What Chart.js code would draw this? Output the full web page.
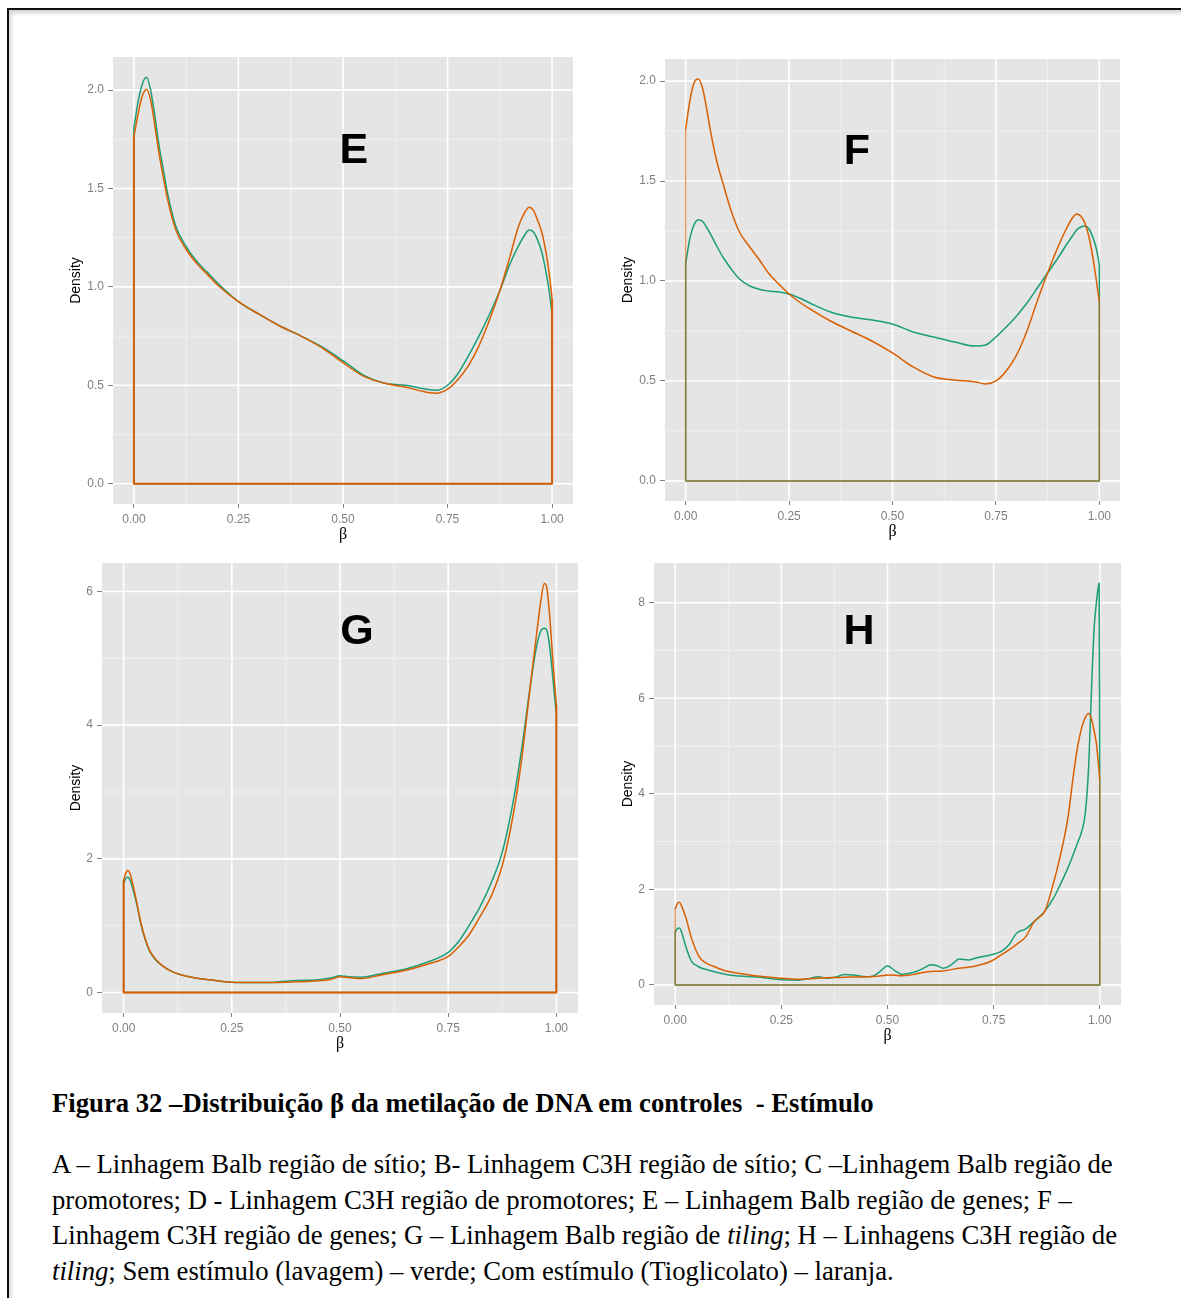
<!DOCTYPE html>
<html>
<head>
<meta charset="utf-8">
<title>Distribuição β da metilação de DNA</title>
<script src="https://cdn.jsdelivr.net/npm/chart.js@4.4.1/dist/chart.umd.min.js"></script>
<style>
  html, body { margin: 0; padding: 0; background: #fff; width: 1181px; height: 1298px; overflow: hidden; }
  #frame { position: absolute; left: 7px; top: 8px; width: 1300px; height: 1400px;
           border: 2px solid #111; box-shadow: inset 2px 3px 4px rgba(0,0,0,0.18); }
  canvas { position: absolute; }
  .cap { position: absolute; left: 52px; font-family: "Liberation Serif", "Times New Roman", serif;
         font-size: 26.7px; color: #000; white-space: nowrap; }
</style>
</head>
<body>
<div id="frame"></div>
<canvas id="chartE"></canvas>
<canvas id="chartF"></canvas>
<canvas id="chartG"></canvas>
<canvas id="chartH"></canvas>

<div class="cap" style="top:1085px;line-height:36px;font-weight:bold;">Figura 32 –Distribuição β da metilação de DNA em controles&nbsp; - Estímulo</div>
<div class="cap" style="top:1147px;line-height:35.5px;">A – Linhagem Balb região de sítio; B- Linhagem C3H região de sítio; C –Linhagem Balb região de<br>promotores; D - Linhagem C3H região de promotores; E – Linhagem Balb região de genes; F –<br>Linhagem C3H região de genes; G – Linhagem Balb região de <i>tiling</i>; H – Linhagens C3H região de<br><i>tiling</i>; Sem estímulo (lavagem) – verde; Com estímulo (Tioglicolato) – laranja.</div>

<script>
// ---- shared axis ticks (β) ----
const betaTicks = [0, 0.25, 0.5, 0.75, 1];
const betaTickLabels = ['0.00', '0.25', '0.50', '0.75', '1.00'];
const betaMinor = [0.125, 0.375, 0.625, 0.875];

// ---- E: Balb, região de genes ----
const eBeta = [0, 0.01, 0.02, 0.03, 0.04, 0.05, 0.06, 0.07, 0.08, 0.1, 0.125, 0.15, 0.175, 0.2, 0.25, 0.3, 0.35, 0.4, 0.45, 0.5, 0.55, 0.6, 0.65, 0.7, 0.725, 0.75, 0.775, 0.8, 0.825, 0.85, 0.875, 0.9, 0.92, 0.935, 0.945, 0.955, 0.965, 0.975, 0.985, 0.993, 1.0];
const eSemEstimulo = [1.81, 1.94, 2.03, 2.065, 2.0, 1.87, 1.72, 1.6, 1.48, 1.31, 1.205, 1.13, 1.075, 1.02, 0.925, 0.86, 0.8, 0.75, 0.695, 0.625, 0.55, 0.51, 0.5, 0.48, 0.475, 0.5, 0.56, 0.65, 0.75, 0.86, 0.98, 1.12, 1.21, 1.265, 1.289, 1.28, 1.24, 1.18, 1.08, 0.98, 0.86];
const eComEstimulo = [1.76, 1.88, 1.97, 2.005, 1.95, 1.82, 1.68, 1.56, 1.45, 1.29, 1.19, 1.12, 1.065, 1.01, 0.925, 0.86, 0.8, 0.75, 0.69, 0.615, 0.545, 0.51, 0.49, 0.465, 0.46, 0.48, 0.53, 0.6, 0.7, 0.83, 0.98, 1.16, 1.31, 1.38, 1.405, 1.39, 1.34, 1.28, 1.18, 1.07, 0.94];
const eYTicks = [0, 0.5, 1, 1.5, 2];
const eYTickLabels = ['0.0', '0.5', '1.0', '1.5', '2.0'];
const eYMinor = [0.25, 0.75, 1.25, 1.75];
const eLetterAt = [0.526, 1.63];

// ---- F: C3H, região de genes ----
const fBeta = [0, 0.01, 0.02, 0.03, 0.04, 0.05, 0.06, 0.075, 0.09, 0.11, 0.13, 0.155, 0.18, 0.2, 0.225, 0.25, 0.275, 0.3, 0.35, 0.4, 0.45, 0.5, 0.55, 0.6, 0.65, 0.7, 0.725, 0.75, 0.775, 0.8, 0.825, 0.85, 0.875, 0.9, 0.92, 0.935, 0.945, 0.955, 0.965, 0.975, 0.985, 0.993, 1.0];
const fSemEstimulo = [1.09, 1.21, 1.28, 1.305, 1.3, 1.27, 1.235, 1.175, 1.12, 1.06, 1.01, 0.975, 0.957, 0.95, 0.945, 0.935, 0.915, 0.89, 0.845, 0.82, 0.805, 0.785, 0.745, 0.72, 0.695, 0.675, 0.68, 0.72, 0.77, 0.825, 0.89, 0.965, 1.04, 1.115, 1.18, 1.225, 1.255, 1.27, 1.275, 1.26, 1.215, 1.16, 1.08];
const fComEstimulo = [1.76, 1.9, 1.99, 2.01, 1.97, 1.87, 1.75, 1.6, 1.49, 1.35, 1.245, 1.17, 1.1, 1.04, 0.985, 0.935, 0.895, 0.86, 0.8, 0.75, 0.7, 0.64, 0.57, 0.52, 0.505, 0.495, 0.485, 0.5, 0.55, 0.63, 0.75, 0.9, 1.04, 1.17, 1.26, 1.315, 1.335, 1.325, 1.29, 1.22, 1.11, 1.0, 0.895];
const fYTicks = [0, 0.5, 1, 1.5, 2];
const fYTickLabels = ['0.0', '0.5', '1.0', '1.5', '2.0'];
const fYMinor = [0.25, 0.75, 1.25, 1.75];
const fLetterAt = [0.414, 1.585];

// ---- G: Balb, região de tiling ----
const gBeta = [0, 0.005, 0.01, 0.015, 0.02, 0.03, 0.04, 0.05, 0.06, 0.075, 0.09, 0.11, 0.13, 0.16, 0.2, 0.25, 0.3, 0.35, 0.4, 0.45, 0.48, 0.5, 0.52, 0.55, 0.6, 0.65, 0.7, 0.75, 0.775, 0.8, 0.825, 0.85, 0.875, 0.9, 0.92, 0.94, 0.955, 0.965, 0.972, 0.978, 0.985, 0.992, 1.0];
const gSemEstimulo = [1.63, 1.71, 1.725, 1.68, 1.58, 1.33, 1.02, 0.79, 0.62, 0.48, 0.4, 0.32, 0.27, 0.225, 0.19, 0.155, 0.15, 0.155, 0.18, 0.19, 0.22, 0.25, 0.235, 0.23, 0.29, 0.35, 0.45, 0.6, 0.77, 1.02, 1.3, 1.65, 2.1, 2.85, 3.65, 4.6, 5.2, 5.42, 5.45, 5.42, 5.15, 4.7, 4.15];
const gComEstimulo = [1.68, 1.79, 1.826, 1.78, 1.65, 1.36, 1.04, 0.8, 0.63, 0.49, 0.4, 0.32, 0.27, 0.225, 0.19, 0.155, 0.15, 0.15, 0.16, 0.175, 0.2, 0.235, 0.225, 0.21, 0.27, 0.33, 0.42, 0.54, 0.69, 0.88, 1.15, 1.45, 1.9, 2.65, 3.5, 4.6, 5.4, 5.9, 6.12, 6.05, 5.6, 4.95, 4.3];
const gYTicks = [0, 2, 4, 6];
const gYTickLabels = ['0', '2', '4', '6'];
const gYMinor = [1, 3, 5];
const gLetterAt = [0.539, 5.21];

// ---- H: C3H, região de tiling ----
const hBeta = [0, 0.005, 0.01, 0.015, 0.025, 0.038, 0.055, 0.07, 0.09, 0.12, 0.16, 0.2, 0.25, 0.29, 0.315, 0.337, 0.357, 0.38, 0.4, 0.425, 0.45, 0.467, 0.485, 0.5, 0.517, 0.534, 0.55, 0.568, 0.585, 0.602, 0.617, 0.631, 0.65, 0.669, 0.69, 0.71, 0.745, 0.77, 0.787, 0.804, 0.825, 0.846, 0.871, 0.89, 0.907, 0.925, 0.938, 0.948, 0.958, 0.966, 0.974, 0.981, 0.987, 0.992, 0.996, 0.9985, 1.0];
const hSemEstimulo = [1.1, 1.18, 1.19, 1.1, 0.8, 0.5, 0.38, 0.33, 0.28, 0.22, 0.18, 0.16, 0.11, 0.1, 0.13, 0.17, 0.14, 0.17, 0.22, 0.2, 0.17, 0.19, 0.3, 0.4, 0.3, 0.22, 0.24, 0.28, 0.35, 0.42, 0.4, 0.35, 0.42, 0.54, 0.52, 0.57, 0.63, 0.71, 0.85, 1.08, 1.17, 1.33, 1.55, 1.8, 2.1, 2.45, 2.74, 2.98, 3.23, 3.6, 4.6, 6.3, 7.5, 8.0, 8.3, 8.41, 4.3];
const hComEstimulo = [1.59, 1.7, 1.73, 1.65, 1.41, 0.99, 0.61, 0.47, 0.39, 0.29, 0.23, 0.18, 0.14, 0.12, 0.13, 0.14, 0.15, 0.155, 0.16, 0.165, 0.17, 0.175, 0.19, 0.21, 0.2, 0.19, 0.2, 0.23, 0.26, 0.28, 0.285, 0.29, 0.32, 0.35, 0.37, 0.4, 0.5, 0.64, 0.74, 0.85, 1.0, 1.33, 1.55, 2.1, 2.7, 3.5, 4.4, 5.0, 5.4, 5.6, 5.68, 5.55, 5.3, 5.05, 4.7, 4.45, 4.28];
const hYTicks = [0, 2, 4, 6, 8];
const hYTickLabels = ['0', '2', '4', '6', '8'];
const hYMinor = [1, 3, 5, 7];
const hLetterAt = [0.433, 7.13];

// ---- styling ----
const GREEN = '#1B9E77';
const ORANGE = '#D95F02';
const SANS = '"Liberation Sans", Arial, Helvetica, sans-serif';
const SERIF = '"Liberation Serif", "Times New Roman", serif';

// panel background and ggplot-style grid, drawn through the chart scales
const panelGrid = {
  id: 'panelGrid',
  beforeDraw(chart, args, opts) {
    const { ctx, chartArea: a, scales: { x, y } } = chart;
    ctx.save();
    ctx.fillStyle = '#E5E5E5';
    ctx.fillRect(a.left, a.top, a.right - a.left, a.bottom - a.top);
    const vline = (v, color, w) => {
      const px = x.getPixelForValue(v);
      ctx.strokeStyle = color; ctx.lineWidth = w;
      ctx.beginPath(); ctx.moveTo(px, a.top); ctx.lineTo(px, a.bottom); ctx.stroke();
    };
    const hline = (v, color, w) => {
      const py = y.getPixelForValue(v);
      ctx.strokeStyle = color; ctx.lineWidth = w;
      ctx.beginPath(); ctx.moveTo(a.left, py); ctx.lineTo(a.right, py); ctx.stroke();
    };
    opts.xMinor.forEach(v => vline(v, '#F2F2F2', 0.9));
    opts.yMinor.forEach(v => hline(v, '#F2F2F2', 0.9));
    opts.xMajor.forEach(v => vline(v, '#FFFFFF', 1.6));
    opts.yMajor.forEach(v => hline(v, '#FFFFFF', 1.6));
    ctx.restore();
  }
};

// big panel letter placed in data coordinates
const panelLetter = {
  id: 'panelLetter',
  afterDatasetsDraw(chart, args, opts) {
    const { ctx, scales: { x, y } } = chart;
    ctx.save();
    ctx.font = 'bold 43px ' + SANS;
    ctx.fillStyle = '#000';
    ctx.textAlign = 'center';
    ctx.textBaseline = 'alphabetic';
    ctx.fillText(opts.text, x.getPixelForValue(opts.at[0]), y.getPixelForValue(opts.at[1]));
    ctx.restore();
  }
};

function curvePoints(beta, dens) {
  return beta.map((b, i) => ({ x: b, y: dens[i] }));
}
// closing outline of the density polygon: down at the left end, along zero, up at the right end
function outlinePoints(beta, dens) {
  const n = dens.length - 1;
  return [{ x: beta[0], y: dens[0] }, { x: beta[0], y: 0 }, { x: beta[n], y: 0 }, { x: beta[n], y: dens[n] }];
}

const panels = [
  { id: 'chartE', letter: 'E', letterAt: eLetterAt, beta: eBeta, sem: eSemEstimulo, com: eComEstimulo,
    yTicks: eYTicks, yLabels: eYTickLabels, yMinor: eYMinor,
    area: { left: 113, top: 57, right: 573, bottom: 504 }, titleX: 76, outlineBlend: false },
  { id: 'chartF', letter: 'F', letterAt: fLetterAt, beta: fBeta, sem: fSemEstimulo, com: fComEstimulo,
    yTicks: fYTicks, yLabels: fYTickLabels, yMinor: fYMinor,
    area: { left: 665, top: 59, right: 1120, bottom: 501 }, titleX: 628, outlineBlend: true },
  { id: 'chartG', letter: 'G', letterAt: gLetterAt, beta: gBeta, sem: gSemEstimulo, com: gComEstimulo,
    yTicks: gYTicks, yLabels: gYTickLabels, yMinor: gYMinor,
    area: { left: 102, top: 563, right: 578, bottom: 1013 }, titleX: 76, outlineBlend: false },
  { id: 'chartH', letter: 'H', letterAt: hLetterAt, beta: hBeta, sem: hSemEstimulo, com: hComEstimulo,
    yTicks: hYTicks, yLabels: hYTickLabels, yMinor: hYMinor,
    area: { left: 654, top: 563, right: 1121, bottom: 1005 }, titleX: 628, outlineBlend: true }
];

const PAD_TOP = 17, PAD_RIGHT = 24, X_AXIS_H = 45, TITLE_OFF = 26;

panels.forEach(p => {
  const canvas = document.getElementById(p.id);
  const left = p.titleX - TITLE_OFF;
  const top = p.area.top - PAD_TOP;
  canvas.width = p.area.right + PAD_RIGHT - left;
  canvas.height = p.area.bottom + X_AXIS_H - top;
  canvas.style.left = left + 'px';
  canvas.style.top = top + 'px';
  const yAxisW = p.area.left - left;

  // ggplot-like 5% expansion of the density range
  const yMax = Math.max(...p.sem, ...p.com);
  const orangeOutline = p.outlineBlend ? 'rgba(217,95,2,0.6)' : ORANGE;
  const orangeOutlineW = p.outlineBlend ? 1.5 : 2;

  new Chart(canvas, {
    type: 'line',
    data: {
      datasets: [
        { label: 'Com estímulo', data: curvePoints(p.beta, p.com), borderColor: ORANGE, cubicInterpolationMode: 'monotone', order: 0 },
        { label: 'Com estímulo (contorno)', data: outlinePoints(p.beta, p.com), borderColor: orangeOutline, borderWidth: orangeOutlineW, tension: 0, order: 1 },
        { label: 'Sem estímulo', data: curvePoints(p.beta, p.sem), borderColor: GREEN, cubicInterpolationMode: 'monotone', order: 2 },
        { label: 'Sem estímulo (contorno)', data: outlinePoints(p.beta, p.sem), borderColor: GREEN, tension: 0, order: 3 }
      ]
    },
    options: {
      responsive: false,
      animation: false,
      events: [],
      layout: { padding: { left: 0, top: PAD_TOP, right: PAD_RIGHT, bottom: 0 } },
      elements: { point: { radius: 0 }, line: { borderWidth: 1.5, fill: false, borderJoinStyle: 'round' } },
      plugins: {
        legend: { display: false },
        tooltip: { enabled: false },
        panelGrid: { xMajor: betaTicks, xMinor: betaMinor, yMajor: p.yTicks, yMinor: p.yMinor },
        panelLetter: { text: p.letter, at: p.letterAt }
      },
      scales: {
        x: {
          type: 'linear', min: -0.05, max: 1.05,
          afterBuildTicks: s => { s.ticks = betaTicks.map(v => ({ value: v })); },
          afterFit: s => { s.height = X_AXIS_H; },
          grid: { drawOnChartArea: false, drawTicks: true, tickLength: 4, tickColor: '#7F7F7F', tickWidth: 1 },
          border: { display: false },
          ticks: { autoSkip: false, maxRotation: 0, padding: 4, color: '#7F7F7F',
                   font: { family: SANS, size: 12 }, callback: (v, i) => betaTickLabels[i] },
          title: { display: true, text: 'β', color: '#000', font: { family: SERIF, size: 16 },
                   padding: { top: 0, bottom: 4.4 } }
        },
        y: {
          type: 'linear', min: -0.05 * yMax, max: 1.05 * yMax,
          afterBuildTicks: s => { s.ticks = p.yTicks.map(v => ({ value: v })); },
          afterFit: s => { s.width = yAxisW; },
          grid: { drawOnChartArea: false, drawTicks: true, tickLength: 5, tickColor: '#7F7F7F', tickWidth: 1 },
          border: { display: false },
          ticks: { autoSkip: false, padding: 4, color: '#7F7F7F',
                   font: { family: SANS, size: 12 }, callback: (v, i) => p.yLabels[i] },
          title: { display: true, text: 'Density', color: '#000', font: { family: SANS, size: 14 },
                   padding: { top: TITLE_OFF - 8.4, bottom: 0 } }
        }
      }
    },
    plugins: [panelGrid, panelLetter]
  });
});
</script>
</body>
</html>
